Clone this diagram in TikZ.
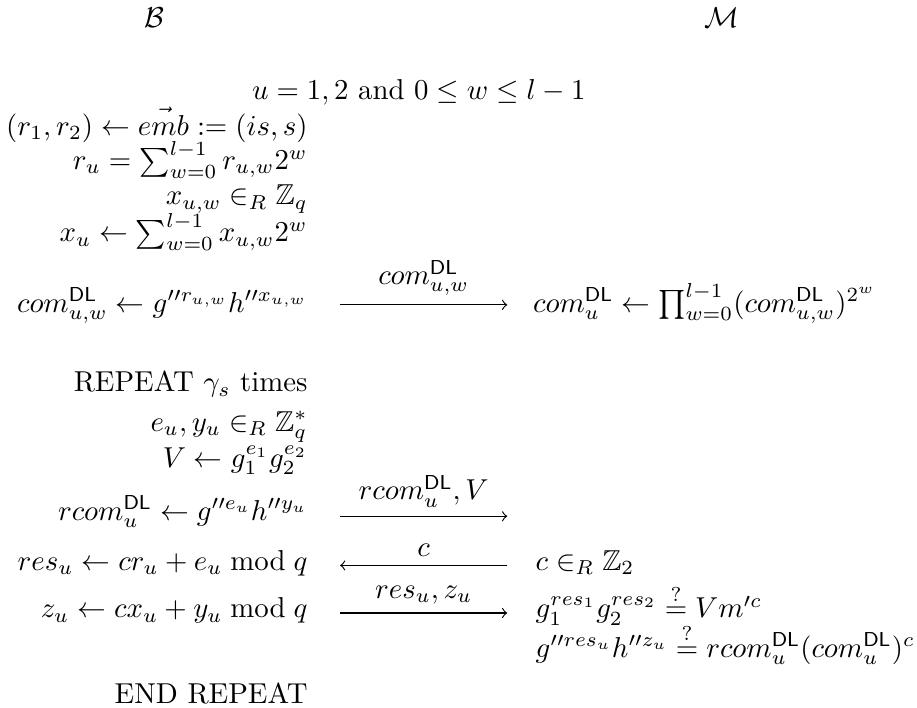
\documentclass[tikz,border=0pt]{standalone}
\usepackage{amsmath}
\usepackage{amssymb}
\usepackage{tikz}

\begin{document}
\begin{tikzpicture}[
  lhs/.style={anchor=base east, inner sep=0pt},
  rhs/.style={anchor=base west, inner sep=0pt},
  msg/.style={->},
  lbl/.style={above=3pt, inner sep=0pt}
]
  \useasboundingbox (0,0) rectangle (11.19,-8.63);

  % parties
  \node (bob) at (1.89,-0.22) {$\mathcal{B}$};
  \node (mal) at (8.81,-0.22) {$\mathcal{M}$};

  % commitment phase
  \node[anchor=base, inner sep=0pt] (range) at (5.11,-1.22) {$u=1,2$ and $0\le w\le l-1$};
  \node[lhs] (split) at (3.76,-1.65) {$(r_1,r_2)\leftarrow \vec{emb}:=(is,s)$};
  \node[lhs] (rsum) at (3.76,-2.07) {$r_u=\sum_{w=0}^{l-1} r_{u,w}2^w$};
  \node[lhs] (xpick) at (3.76,-2.50) {$x_{u,w}\in_R\mathbb{Z}_q$};
  \node[lhs] (xsum) at (3.76,-2.95) {$x_u\leftarrow\sum_{w=0}^{l-1} x_{u,w}2^w$};
  \node[lhs] (comw) at (3.76,-3.81) {$com_{u,w}^{\mathsf{DL}}\leftarrow g''^{r_{u,w}}h''^{x_{u,w}}$};
  \node[rhs] (comu) at (6.50,-3.81) {$com_u^{\mathsf{DL}}\leftarrow\prod_{w=0}^{l-1}(com_{u,w}^{\mathsf{DL}})^{2^w}$};

  % repeated rounds
  \node[lhs] (rep) at (3.76,-4.78) {REPEAT $\gamma_s$ times};
  \node[lhs] (epick) at (3.76,-5.26) {$e_u,y_u\in_R\mathbb{Z}_q^*$};
  \node[lhs] (vcalc) at (3.76,-5.70) {$V\leftarrow g_1^{e_1}g_2^{e_2}$};
  \node[lhs] (rcom) at (3.76,-6.35) {$rcom_u^{\mathsf{DL}}\leftarrow g''^{e_u}h''^{y_u}$};
  \node[lhs] (res) at (3.76,-6.96) {$res_u\leftarrow cr_u+e_u\bmod q$};
  \node[rhs] (chal) at (6.53,-6.96) {$c\in_R\mathbb{Z}_2$};
  \node[lhs] (zcalc) at (3.76,-7.54) {$z_u\leftarrow cx_u+y_u\bmod q$};
  \node[rhs] (chk1) at (6.53,-7.54) {$g_1^{res_1}g_2^{res_2}\stackrel{?}{=}Vm'^c$};
  \node[rhs] (chk2) at (6.53,-8.02) {$g''^{res_u}h''^{z_u}\stackrel{?}{=}rcom_u^{\mathsf{DL}}(com_u^{\mathsf{DL}})^c$};
  \node[lhs] (endrep) at (3.76,-8.58) {END REPEAT};

  % messages
  \coordinate (m1s) at (4.15,-3.72);
  \coordinate (m1e) at (6.19,-3.72);
  \coordinate (m2s) at (4.15,-6.30);
  \coordinate (m2e) at (6.19,-6.30);
  \coordinate (m3s) at (4.15,-6.90);
  \coordinate (m3e) at (6.19,-6.90);
  \coordinate (m4s) at (4.15,-7.48);
  \coordinate (m4e) at (6.19,-7.48);

  \draw[msg] (m1s) -- node[lbl] {$com_{u,w}^{\mathsf{DL}}$} (m1e);
  \draw[msg] (m2s) -- node[lbl] {$rcom_u^{\mathsf{DL}},V$} (m2e);
  \draw[msg] (m3e) -- node[lbl] {$c$} (m3s);
  \draw[msg] (m4s) -- node[lbl] {$res_u,z_u$} (m4e);
\end{tikzpicture}
\end{document}
